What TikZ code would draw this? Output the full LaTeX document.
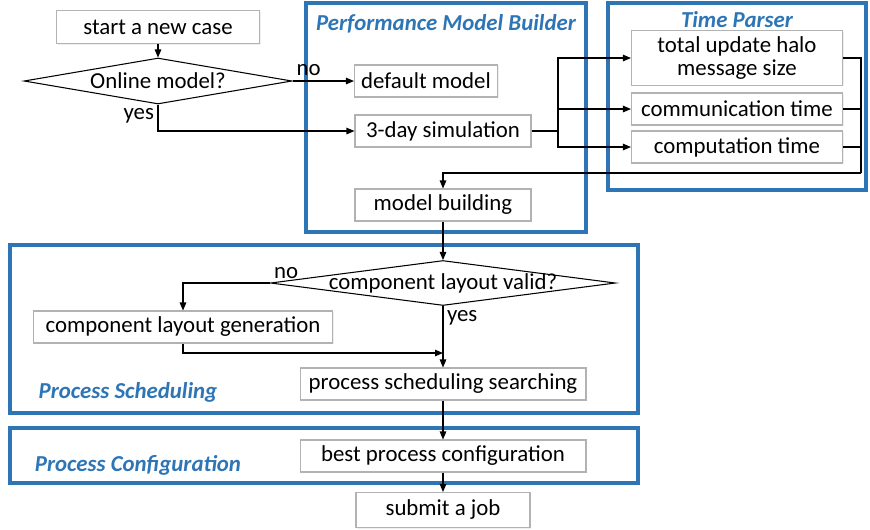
\documentclass[tikz,border=0pt]{standalone}
\usepackage{fontspec}
\setmainfont{Carlito}
\usepackage{xcolor}
\usepackage{tikz}
\usetikzlibrary{arrows.meta,positioning,shapes.geometric,calc,shadows}

\definecolor{grpblue}{RGB}{46,117,182}

\begin{document}
\begin{tikzpicture}[
  x=0.02cm, y=-0.02cm,
  box/.style={draw=gray!60, fill=white, minimum height=0.64cm, align=center,
              font=\fontsize{13}{15}\selectfont,
              drop shadow={shadow xshift=0.7pt, shadow yshift=-0.7pt, fill=gray!25}},
  dec/.style={draw, diamond, inner sep=0pt, fill=white,
              label={[font=\fontsize{13}{15}\selectfont]center:#1}},
  group/.style={draw=grpblue, line width=2.2pt},
  title/.style={font=\fontsize{13}{15}\selectfont\bfseries\itshape, text=grpblue},
  lbl/.style={font=\fontsize{13}{15}\selectfont, inner sep=2pt},
  >={Triangle[length=1.6mm,width=1.3mm]}, line width=0.6pt
]
  \useasboundingbox (0,0) rectangle (870,529);

  % groups
  \draw[group] (306,3) rectangle (586,232);
  \draw[group] (608,3) rectangle (866,190);
  \draw[group] (10,245) rectangle (638,413);
  \draw[group] (10,428) rectangle (638,483);
  \node[title] (pmbtitle) at (446,24) {Performance Model Builder};
  \node[title] (tptitle) at (737,20) {Time Parser};
  \node[title] (pstitle) at (128,392) {Process Scheduling};
  \node[title] (pctitle) at (138,465) {Process Configuration};

  % nodes
  \node[box, minimum width=4.06cm, minimum height=0.66cm] (start) at (158,27) {start a new case};
  \node[dec={Online model?}, minimum width=5.36cm, minimum height=0.92cm] (online) at (158,81) {};
  \node[box, minimum width=2.86cm] (default) at (426,81) {default model};
  \node[box, minimum width=3.52cm] (sim) at (443,131) {3-day simulation};
  \node[box, minimum width=3.52cm] (build) at (443,205) {model building};
  \node[box, minimum width=4.22cm, minimum height=0.94cm] (halo) at (737,58)
    {total update halo\\[-2pt]message size};
  \node[box, minimum width=4.22cm] (comm) at (737,109) {communication time};
  \node[box, minimum width=4.22cm] (comp) at (737,147) {computation time};
  \node[dec={component layout valid?}, minimum width=6.9cm, minimum height=0.9cm] (valid) at (443,283) {};
  \node[box, minimum width=5.98cm] (gen) at (183,327) {component layout generation};
  \node[box, minimum width=5.72cm] (search) at (443,384) {process scheduling searching};
  \node[box, minimum width=5.72cm] (best) at (443,456) {best process configuration};
  \node[box, minimum width=3.48cm, minimum height=0.7cm] (submit) at (443,510) {submit a job};

  \coordinate (split) at (558,131);
  \coordinate (join) at (861,173);
  \coordinate (merge) at (443,353);

  % connectors
  \draw[->] (start) -- (online);
  \draw[->] (online.east) -- node[lbl, pos=0, above right, yshift=1pt] {no} (default);
  \draw[->] (online.south) node[lbl, below left] {yes} |- (sim);
  \draw (sim) -- (split);
  \draw[->] (split) |- (halo);
  \draw[->] (split) |- (comm);
  \draw[->] (split) |- (comp);
  \draw (halo.east) -| (join);
  \draw (comm.east) -- (comm.east -| join);
  \draw (comp.east) -- (comp.east -| join);
  \draw[->] (join) -| (build);
  \draw[->] (build) -- (valid);
  \draw[->] (valid.west) node[lbl, above right] {no} -| (gen);
  \draw[->] (valid.south) node[lbl, below right] {yes} -- (search);
  \draw[->] (gen.south) |- (merge);
  \draw[->] (search) -- (best);
  \draw[->] (best) -- (submit);
\end{tikzpicture}
\end{document}
